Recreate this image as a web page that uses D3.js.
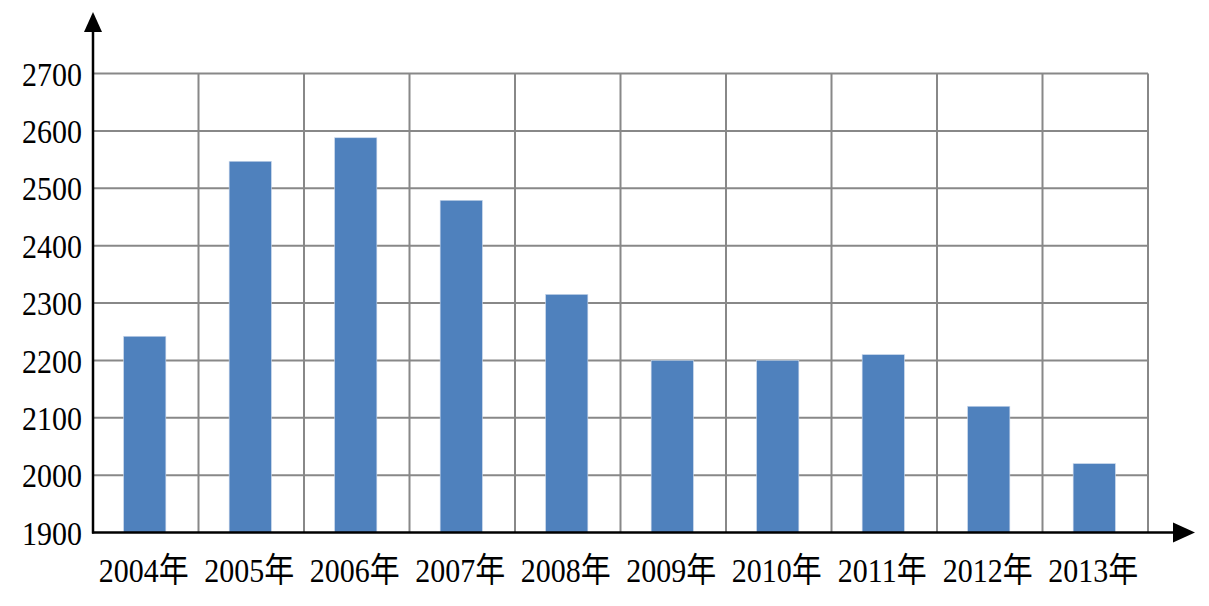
<!DOCTYPE html>
<html><head><meta charset="utf-8">
<script src="https://cdn.jsdelivr.net/npm/d3@7"></script>
<style>body{margin:0;background:#fff;}svg{display:block;}</style>
</head><body>
<svg id="chart" width="1209" height="606"></svg>
<script>
const categories = ["2004年","2005年","2006年","2007年","2008年","2009年","2010年","2011年","2012年","2013年"];
const values = [2242, 2547, 2588, 2479, 2315, 2200, 2200, 2210, 2120, 2020];
const yTicks = [1900, 2000, 2100, 2200, 2300, 2400, 2500, 2600, 2700];

(function () {
const svg = d3.select("#chart");
const pLeft = 93, pRight = 1148, pTop = 73.5, pBottom = 532.5;
const x = d3.scaleBand().domain(categories).range([pLeft, pRight]).paddingInner(0.6).paddingOuter(0.3);
const xGrid = d3.scaleLinear().domain([0, categories.length]).range([pLeft, pRight]);
const y = d3.scaleLinear().domain([1900, 2700]).range([pBottom, pTop]);

const grid = svg.append("g").attr("stroke", "#888").attr("stroke-width", 2);
grid.selectAll("line.h").data(yTicks.slice(1)).join("line")
  .attr("x1", pLeft).attr("x2", pRight).attr("y1", d => y(d)).attr("y2", d => y(d));
grid.selectAll("line.v").data(d3.range(1, categories.length + 1)).join("line")
  .attr("x1", d => xGrid(d)).attr("x2", d => xGrid(d)).attr("y1", pTop).attr("y2", pBottom);

svg.append("g").selectAll("rect").data(values).join("rect")
  .attr("x", (d, i) => x(categories[i]) - 1)
  .attr("width", x.bandwidth())
  .attr("y", d => y(d))
  .attr("height", d => pBottom - y(d))
  .attr("fill", "#4f81bd")
  .attr("stroke", "#c9d7ea").attr("stroke-width", 0.6);

const yAxis = d3.axisLeft(y).tickValues(yTicks).tickSize(0).tickPadding(11).tickFormat(d3.format("d"));
const gy = svg.append("g").attr("transform", `translate(${pLeft},0)`).call(yAxis);
gy.select(".domain").remove();
gy.selectAll("text").attr("font-family", "'Liberation Serif','Times New Roman',serif")
  .attr("font-size", 30).attr("fill", "#000").attr("dy", "0.34em")
  .attr("transform", "scale(1,1.15)");

const xAxis = d3.axisBottom(x).tickSize(0).tickPadding(22);
const gx = svg.append("g").attr("transform", `translate(-2,${pBottom})`).call(xAxis);
gx.select(".domain").remove();
gx.selectAll("text").attr("font-family", "'Liberation Serif','Times New Roman','Noto Sans CJK SC',serif")
  .attr("font-size", 30).attr("fill", "#000")
  .attr("transform", "scale(1,1.15)");

svg.append("line").attr("x1", pLeft).attr("x2", pLeft).attr("y1", pBottom + 1).attr("y2", 30)
  .attr("stroke", "#000").attr("stroke-width", 2.5);
svg.append("path").attr("d", `M${pLeft},12 L${pLeft - 9},32 L${pLeft + 9},32 Z`).attr("fill", "#000");
svg.append("line").attr("x1", pLeft - 1).attr("x2", 1176).attr("y1", pBottom).attr("y2", pBottom)
  .attr("stroke", "#000").attr("stroke-width", 2.5);
svg.append("path").attr("d", `M1195,${pBottom} L1173,${pBottom - 10} L1173,${pBottom + 10} Z`).attr("fill", "#000");
})();
</script>
</body></html>
